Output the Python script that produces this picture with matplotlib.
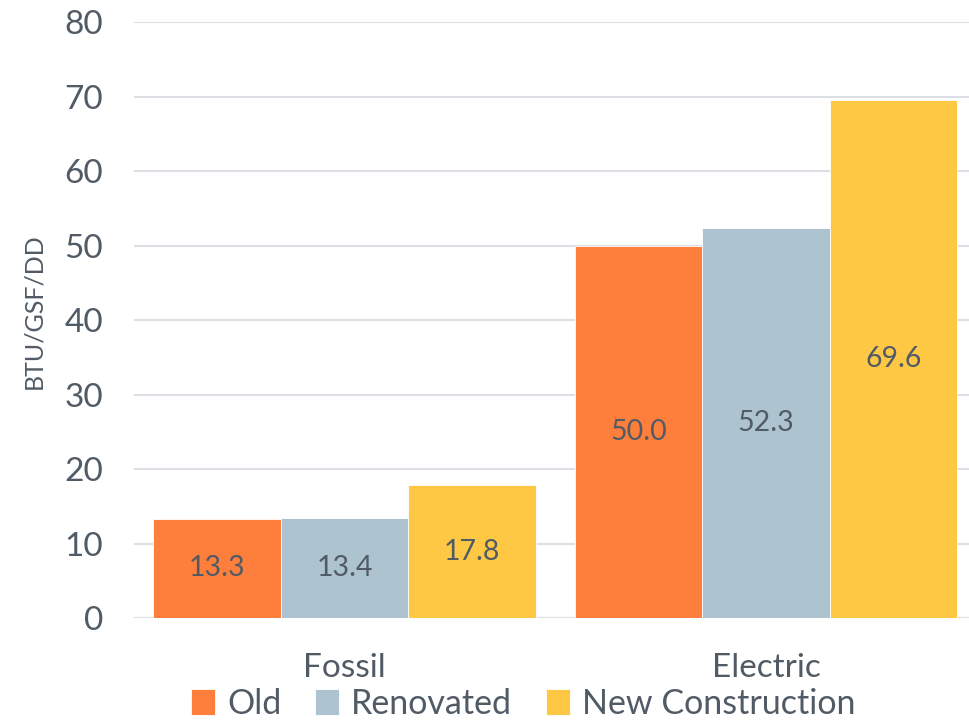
import matplotlib.pyplot as plt
import numpy as np

categories = ['Fossil', 'Electric']
series = ['Old', 'Renovated', 'New Construction']
old = [13.3, 50.0]
renovated = [13.4, 52.3]
new_construction = [17.8, 69.6]

colors = ['#FE7F3C', '#ADC3CF', '#FEC844']
text_color = '#515b66'

plt.rcParams['font.family'] = ['Lato', 'DejaVu Sans']

fig = plt.figure(figsize=(9.69, 7.23), dpi=100)
ax = fig.add_axes([0.138, 0.1452, 0.870, 0.8243])

x = np.arange(len(categories))
w = 0.3025
values = [old, renovated, new_construction]
for k, (name, vals) in enumerate(zip(series, values)):
    bars = ax.bar(x + (k - 1) * w, vals, w, color=colors[k], label=name,
                  edgecolor='white', linewidth=0.6, zorder=3)
    for b, v in zip(bars, vals):
        ax.text(b.get_x() + b.get_width() / 2, v / 2, f'{v:.1f}',
                ha='center', va='center', fontsize=20.5, color=text_color, zorder=4)

ax.set_xlim(-0.5, 1.5)
ax.set_ylim(0, 80)
ax.set_yticks(range(0, 81, 10))
ax.set_xticks(x)
ax.set_xticklabels(categories)
ax.grid(axis='y', color='#dcdfe3', linewidth=1.5, zorder=0)
ax.axhline(0, color='#dcdfe3', linewidth=1.5, zorder=1)
for s in ax.spines.values():
    s.set_visible(False)
ax.tick_params(axis='both', length=0, colors=text_color, labelsize=24)
ax.tick_params(axis='y', pad=22, labelsize=24)
ax.tick_params(axis='x', pad=25)
ax.set_ylabel('BTU/GSF/DD', fontsize=18, color=text_color)
ax.yaxis.set_label_coords(-0.105, 0.515)

fig.legend(loc='lower center', bbox_to_anchor=(0.54, -0.038), ncol=3, frameon=False,
           fontsize=24.5, labelcolor=text_color, handlelength=0.7, handleheight=0.8,
           handletextpad=0.35, columnspacing=1.0)

fig.savefig('out.png', dpi=100)
